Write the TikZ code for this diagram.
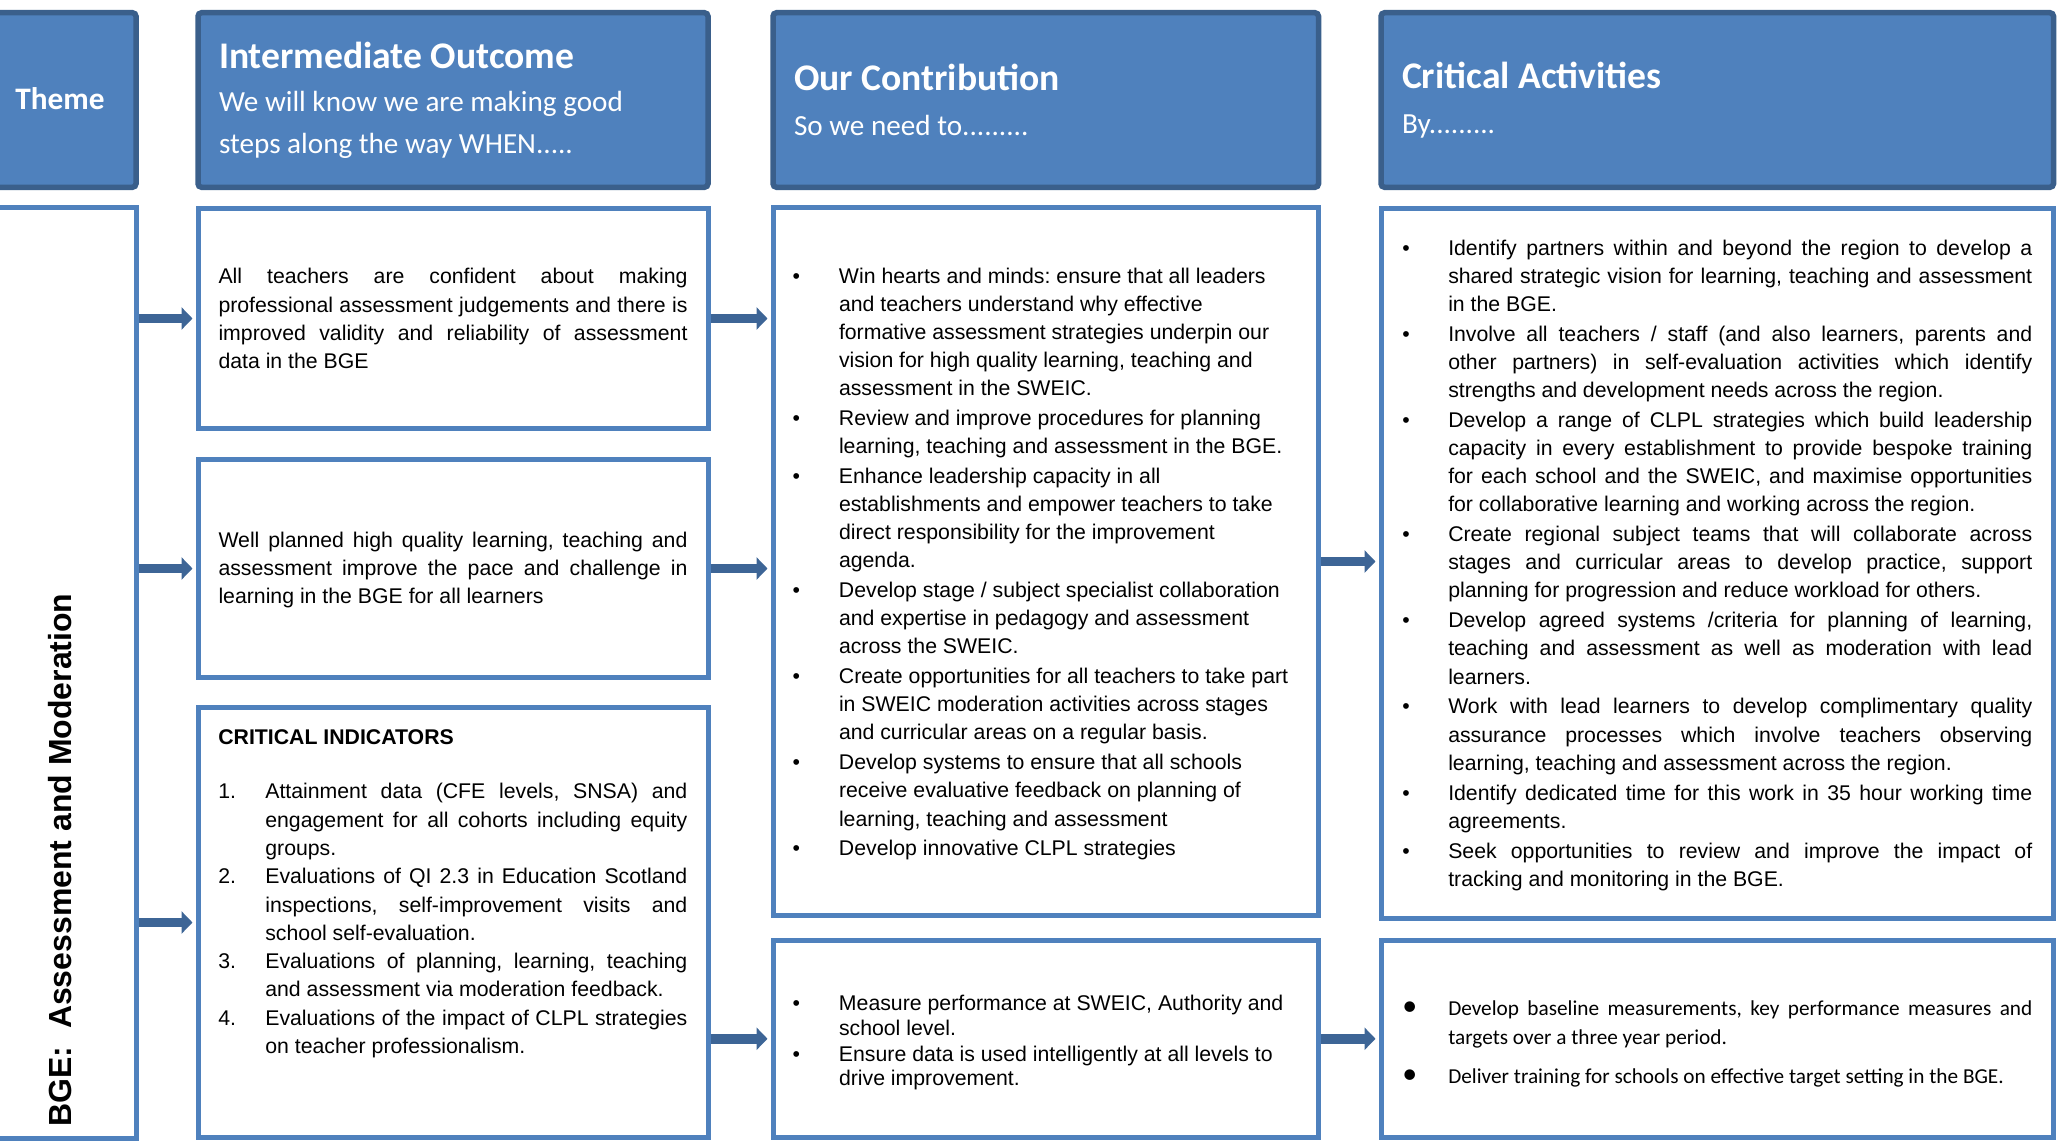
\documentclass[tikz,border=0pt]{standalone}
\usepackage{fontspec}
\setmainfont{Liberation Sans}
\newfontfamily\calibri{Carlito}
\usetikzlibrary{arrows.meta, positioning}
\definecolor{headblue}{HTML}{4F81BD}
\definecolor{headline}{HTML}{3A5F8B}
\definecolor{boxline}{HTML}{4F81BD}
\definecolor{flowblue}{HTML}{3D6596}
\tikzset{%
  head/.style = {rectangle,draw=headline,fill=headblue,line width=0.11cm,
        rounded corners=2pt,text=white,inner xsep=0.42cm,minimum height=3.49cm},
  body/.style = {rectangle,draw=boxline,fill=white,line width=0.1cm},
  flow/.style = {-{Triangle[length=0.22cm,width=0.44cm]},line width=0.19cm,
        draw=flowblue,shorten >=0.06cm}
}
\frenchspacing
% paragraph set-ups for the boxes
\newcommand{\justpar}{\rightskip=0pt\relax\leftskip=0pt\relax\spaceskip=0pt\relax\xspaceskip=0pt\relax
  \parfillskip=0pt plus 1fil\relax\hyphenpenalty=10000\relax\tolerance=9999\relax}
\newcommand{\raggpar}{\rightskip=0pt plus 1fil\relax\leftskip=0pt\relax\spaceskip=0pt\relax\xspaceskip=0pt\relax
  \hyphenpenalty=10000\relax\tolerance=9999\relax}
\newcommand{\arialsize}{\fontsize{12.1}{16}\selectfont\parskip=1pt\relax}
% one hanging entry: marker, indent, text
\newcommand{\entry}[3]{\hangindent=#2\relax\hangafter=1\relax\noindent\makebox[#2][l]{#1}#3\par}
\newcommand{\headfont}{\calibri\fontsize{21.4}{21.4}\selectfont\bfseries}
\newcommand{\subfont}{\calibri\fontsize{16.6}{24}\selectfont\mdseries}

\begin{document}
\begin{tikzpicture}
        \useasboundingbox (0,0) rectangle (41.18,-22.86);
        % column heads
        \node[head,minimum width=3.12cm] (theme) at (1.16,-2)
            {\calibri\fontsize{17.8}{17.8}\selectfont\bfseries\raisebox{2pt}{\hspace{0.08cm}Theme}};
        \node[head,minimum width=10.2cm,text width=9.36cm] (io) at (9.06,-2)
            {\raggpar\headfont Intermediate Outcome\par
             \subfont\vspace{0.5pt}We will know we are making good\linebreak steps along the way WHEN.....\par};
        \node[head,minimum width=10.91cm,text width=10.07cm] (oc) at (20.915,-2)
            {\raggpar\headfont Our Contribution\par
             \subfont\vspace{2pt}So we need to.........\par};
        \node[head,minimum width=13.45cm,text width=12.61cm] (ca) at (34.345,-2)
            {\raggpar\headfont Critical Activities\par
             \subfont\vspace{2pt}By.........\par};
        % theme
        \node[body,minimum width=3.12cm,minimum height=18.62cm] (themebody) at (1.16,-13.45) {};
        \node[rotate=90,anchor=west,inner sep=0pt,font=\fontsize{18.2}{18.2}\selectfont\bfseries]
            (bge) at ([shift={(0.04,0.27)}]themebody.south) {BGE:\ \ Assessment and Moderation};
        % intermediate outcomes
        \node[body,minimum width=10.2cm,minimum height=4.4cm,text width=9.38cm]
            (io1) at (9.06,-6.37) {\arialsize\justpar All teachers are confident about making\linebreak
            professional assessment judgements and there is\linebreak
            improved validity and reliability of assessment\linebreak data in the BGE\par};
        \node[body,minimum width=10.2cm,minimum height=4.36cm,text width=9.38cm]
            (io2) at (9.06,-11.37) {\arialsize\justpar Well planned high quality learning, teaching and\linebreak
            assessment improve the pace and challenge in\linebreak
            learning in the BGE for all learners\par\kern-0.05cm};
        \node[body,minimum width=10.2cm,minimum height=8.6cm] (io3) at (9.06,-18.45) {};
        \node[inner sep=0pt,text width=9.38cm,anchor=north west]
            (io3txt) at ([shift={(0.45,-0.48)}]io3.north west) {\fontsize{12.1}{16.1}\selectfont\parskip=0pt\relax\justpar
            \textbf{CRITICAL INDICATORS}\par
            \vspace{15pt}
            \entry{1.}{0.94cm}{Attainment data (CFE levels, SNSA) and\linebreak
              engagement for all cohorts including equity\linebreak groups.}
            \entry{2.}{0.94cm}{Evaluations of QI 2.3 in Education Scotland\linebreak
              inspections, self-improvement visits and\linebreak school self-evaluation.}
            \entry{3.}{0.94cm}{Evaluations of planning, learning, teaching\linebreak
              and assessment via moderation feedback.}
            \entry{4.}{0.94cm}{Evaluations of the impact of CLPL strategies\linebreak
              on teacher professionalism.}};
        % our contribution
        \node[body,minimum width=10.91cm,minimum height=14.16cm,text width=10.13cm]
            (oc1) at (20.915,-11.23) {\arialsize\raggpar
            \entry{•}{0.93cm}{Win hearts and minds: ensure that all leaders\linebreak
              and teachers understand why effective\linebreak
              formative assessment strategies underpin our\linebreak
              vision for high quality learning, teaching and\linebreak
              assessment in the SWEIC.}
            \entry{•}{0.93cm}{Review and improve procedures for planning\linebreak
              learning, teaching and assessment in the BGE.}
            \entry{•}{0.93cm}{Enhance leadership capacity in all\linebreak
              establishments and empower teachers to take\linebreak
              direct responsibility for the improvement\linebreak agenda.}
            \entry{•}{0.93cm}{Develop stage / subject specialist collaboration\linebreak
              and expertise in pedagogy and assessment\linebreak across the SWEIC.}
            \entry{•}{0.93cm}{Create opportunities for all teachers to take part\linebreak
              in SWEIC moderation activities across stages\linebreak
              and curricular areas on a regular basis.}
            \entry{•}{0.93cm}{Develop systems to ensure that all schools\linebreak
              receive evaluative feedback on planning of\linebreak
              learning, teaching and assessment}
            \entry{•}{0.93cm}{Develop innovative CLPL strategies}\kern-0.1cm};
        \node[body,minimum width=10.91cm,minimum height=3.95cm,text width=10.13cm]
            (oc2) at (20.915,-20.775) {\fontsize{12.1}{13.8}\selectfont\parskip=1.1pt\relax\raggpar
            \entry{•}{0.93cm}{Measure performance at SWEIC, Authority and\linebreak school level.}
            \entry{•}{0.93cm}{Ensure data is used intelligently at all levels to\linebreak
              drive improvement.}\kern-0.16cm};
        % critical activities
        \node[body,minimum width=13.45cm,minimum height=14.19cm,text width=12.6cm]
            (ca1) at (34.345,-11.265) {\arialsize\justpar
            \entry{•}{0.92cm}{Identify partners within and beyond the region to develop a\linebreak
              shared strategic vision for learning, teaching and assessment\linebreak in the BGE.}
            \entry{•}{0.92cm}{Involve all teachers / staff (and also learners, parents and\linebreak
              other partners) in self-evaluation activities which identify\linebreak
              strengths and development needs across the region.}
            \entry{•}{0.92cm}{Develop a range of CLPL strategies which build leadership\linebreak
              capacity in every establishment to provide bespoke training\linebreak
              for each school and the SWEIC, and maximise opportunities\linebreak
              for collaborative learning and working across the region.}
            \entry{•}{0.92cm}{Create regional subject teams that will collaborate across\linebreak
              stages and curricular areas to develop practice, support\linebreak
              planning for progression and reduce workload for others.}
            \entry{•}{0.92cm}{Develop agreed systems /criteria for planning of learning,\linebreak
              teaching and assessment as well as moderation with lead\linebreak learners.}
            \entry{•}{0.92cm}{Work with lead learners to develop complimentary quality\linebreak
              assurance processes which involve teachers observing\linebreak
              learning, teaching and assessment across the region.}
            \entry{•}{0.92cm}{Identify dedicated time for this work in 35 hour working time\linebreak
              agreements.}
            \entry{•}{0.92cm}{Seek opportunities to review and improve the impact of\linebreak
              tracking and monitoring in the BGE.}\kern-0.08cm};
        \node[body,minimum width=13.45cm,minimum height=3.95cm,text width=12.6cm]
            (ca2) at (34.345,-20.775) {\calibri\fontsize{12.1}{16.4}\selectfont\parskip=6pt\relax\justpar
            \entry{\fontsize{17}{17}\selectfont •}{0.92cm}{Develop baseline measurements, key performance measures and\linebreak
              targets over a three year period.}
            \entry{\fontsize{17}{17}\selectfont •}{0.92cm}{Deliver training for schools on effective target setting in the BGE.}\kern-0.21cm};
        % arrows
        \draw[flow] (themebody.east |- io1.west) -- (io1.west);
        \draw[flow] (themebody.east |- io2.west) -- (io2.west);
        \draw[flow] (themebody.east |- io3.west) -- (io3.west);
        \draw[flow] (io1.east) -- (oc1.west |- io1.east);
        \draw[flow] (io2.east) -- (oc1.west |- io2.east);
        \draw[flow] (io3.east |- oc2.west) -- (oc2.west);
        \draw[flow] (oc1.east) -- (ca1.west |- oc1.east);
        \draw[flow] (oc2.east) -- (ca2.west);
    \end{tikzpicture}
\end{document}
